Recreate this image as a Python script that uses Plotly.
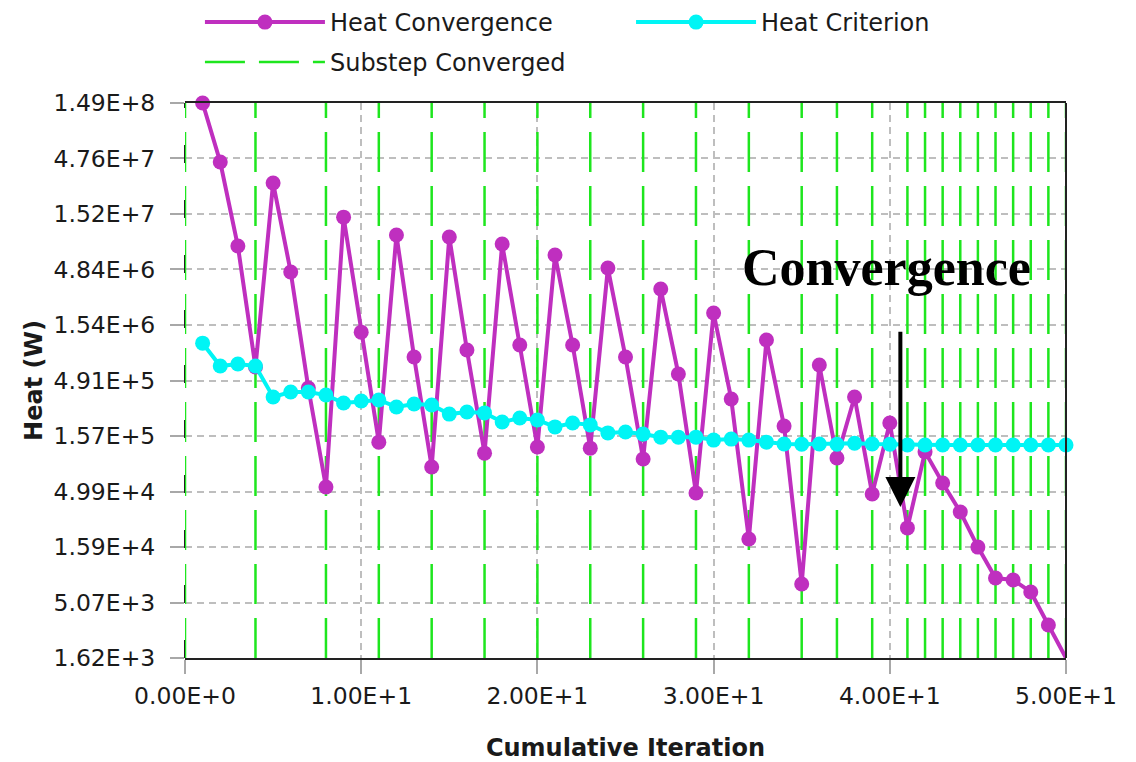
import math
import plotly.graph_objects as go

# Cumulative iteration index and the two residual histories (W)
iterations = list(range(1, 51))
heat_convergence = [
    1.49e8, 4.42e7, 7.84e6, 6.49e5, 2.87e7, 4.59e6, 4.21e5, 5.48e4, 1.42e7, 1.33e6,
    1.38e5, 9.83e6, 7.97e5, 8.27e4, 9.43e6, 9.21e5, 1.10e5, 8.17e6, 1.02e6, 1.25e5,
    6.51e6, 1.02e6, 1.22e5, 4.98e6, 7.97e5, 9.75e4, 3.23e6, 5.62e5, 4.84e4, 1.97e6,
    3.36e5, 1.88e4, 1.13e6, 1.92e5, 7.43e3, 6.76e5, 9.96e4, 3.50e5, 4.75e4, 2.05e5,
    2.36e4, 1.13e5, 5.95e4, 3.28e4, 1.59e4, 8.41e3, 8.08e3, 6.31e3, 3.20e3, 1.62e3,
]
heat_criterion = [
    1.06e6, 6.62e5, 6.90e5, 6.62e5, 3.50e5, 3.88e5, 3.88e5, 3.64e5, 3.09e5, 3.22e5,
    3.29e5, 2.85e5, 3.03e5, 2.97e5, 2.46e5, 2.57e5, 2.52e5, 2.09e5, 2.27e5, 2.18e5,
    1.89e5, 2.05e5, 1.97e5, 1.67e5, 1.70e5, 1.63e5, 1.53e5, 1.53e5, 1.53e5, 1.44e5,
    1.47e5, 1.44e5, 1.38e5, 1.33e5, 1.32e5, 1.33e5, 1.32e5, 1.35e5, 1.33e5, 1.32e5,
    1.30e5, 1.30e5, 1.30e5, 1.30e5, 1.30e5, 1.30e5, 1.30e5, 1.30e5, 1.30e5, 1.30e5,
]
# Iterations at which a substep converged
substep_converged = [0, 4, 8, 11, 14, 17, 20, 23, 26, 29, 32, 35, 37, 39,
                     41, 42, 43, 44, 45, 46, 47, 48, 49, 50]

# Axis ticks
x_tickvals = [0, 10, 20, 30, 40, 50]
x_ticktext = ["0.00E+0", "1.00E+1", "2.00E+1", "3.00E+1", "4.00E+1", "5.00E+1"]
y_tickvals = [1.62e3, 5.07e3, 1.59e4, 4.99e4, 1.57e5, 4.91e5, 1.54e6, 4.84e6, 1.52e7, 4.76e7, 1.49e8]
y_ticktext = ["1.62E+3", "5.07E+3", "1.59E+4", "4.99E+4", "1.57E+5", "4.91E+5",
              "1.54E+6", "4.84E+6", "1.52E+7", "4.76E+7", "1.49E+8"]

y_min, y_max = 1.62e3, 1.49e8

MAGENTA = "#BF2FBF"
CYAN = "#00F5F5"
GREEN = "#1EE61E"
GRID = "#BEBEBE"
FRAME = "#222222"

fig = go.Figure()

# Vertical markers for converged substeps, spanning the full y range
sx, sy = [], []
for it in substep_converged:
    sx += [it, it, None]
    sy += [y_min, y_max, None]
fig.add_trace(go.Scatter(
    x=sx, y=sy, mode="lines", name="Substep Converged", legend="legend2",
    line=dict(color=GREEN, width=2.5, dash="40px,14px"),
    hoverinfo="skip", cliponaxis=False,
))

fig.add_trace(go.Scatter(
    x=iterations, y=heat_convergence, mode="lines+markers", name="Heat Convergence",
    legend="legend",
    line=dict(color=MAGENTA, width=4),
    marker=dict(color=MAGENTA, size=15, symbol="circle"),
    cliponaxis=False,
))
fig.add_trace(go.Scatter(
    x=iterations, y=heat_criterion, mode="lines+markers", name="Heat Criterion",
    legend="legend3",
    line=dict(color=CYAN, width=4),
    marker=dict(color=CYAN, size=15, symbol="circle"),
    cliponaxis=False,
))

# Frame: right edge solid, left edge dashed beneath the green substep line
fig.add_shape(type="line", xref="paper", yref="paper", x0=1, x1=1, y0=0, y1=1,
              line=dict(color=FRAME, width=2), layer="above")
fig.add_shape(type="line", xref="paper", yref="paper", x0=0, x1=0, y0=0, y1=1,
              line=dict(color=FRAME, width=2, dash="18px,37px"), layer="below")

# Convergence callout
fig.add_annotation(
    x=39.8, y=6.70, xref="x", yref="y", text="<b>Convergence</b>", showarrow=False,
    font=dict(family="Liberation Serif", size=52, color="black"),
)
fig.add_annotation(
    x=40.6, y=4.56, xref="x", yref="y", ax=40.6, ay=6.14, axref="x", ayref="y",
    text="", showarrow=True, arrowhead=2, arrowsize=1.5, arrowwidth=4, arrowcolor="black",
)

legend_font = dict(family="DejaVu Sans", size=24, color="#1a1a1a")


def legend_box(x, y):
    return dict(
        orientation="h", xref="container", yref="container",
        x=x, y=y, xanchor="left", yanchor="top",
        itemwidth=120, font=legend_font, bgcolor="rgba(0,0,0,0)",
    )


fig.update_layout(
    width=1136, height=762,
    margin=dict(l=185, r=70, t=103, b=104, autoexpand=False),
    paper_bgcolor="white", plot_bgcolor="white",
    font=dict(family="DejaVu Sans", size=23.5, color="#1a1a1a"),
    showlegend=True,
    legend=legend_box(0.176, 1.0),
    legend3=legend_box(0.5555, 1.0),
    legend2=legend_box(0.176, 0.9475),
)
fig.update_xaxes(
    range=[0, 50], tickvals=x_tickvals, ticktext=x_ticktext,
    showgrid=True, gridcolor=GRID, gridwidth=1.5, griddash="7px,5px",
    showline=True, linecolor=FRAME, linewidth=2, mirror=True,
    ticks="outside", ticklen=14, tickcolor="#A8A8A8", tickwidth=1.5,
    ticklabelstandoff=2, zeroline=False,
    title=dict(text="<b>Cumulative Iteration</b>", font=dict(size=24), standoff=30),
)
fig.update_yaxes(
    type="log", range=[math.log10(y_min), math.log10(y_max)],
    tickvals=y_tickvals, ticktext=y_ticktext,
    showgrid=True, gridcolor=GRID, gridwidth=1.5, griddash="7px,5px",
    showline=False, zeroline=False,
    ticks="outside", ticklen=14, tickcolor="#A8A8A8", tickwidth=1.5,
    ticklabelstandoff=10,
    title=dict(text="<b>Heat (W)</b>", font=dict(size=24), standoff=4),
)

fig.write_html("out.html")
